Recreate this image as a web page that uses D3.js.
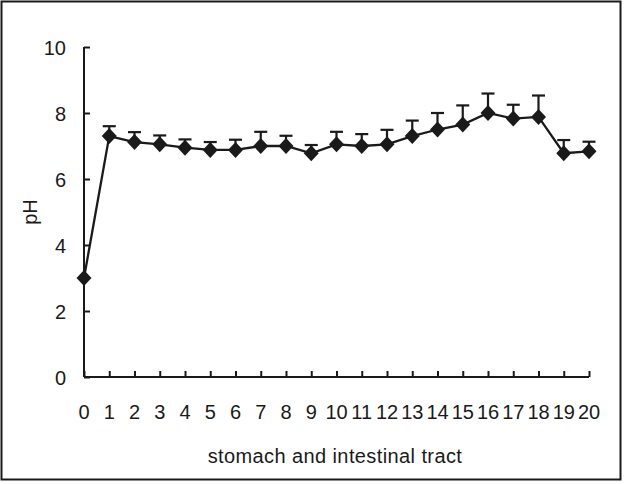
<!DOCTYPE html>
<html><head><meta charset="utf-8">
<script src="https://cdn.jsdelivr.net/npm/d3@7"></script>
<style>body{margin:0;background:#fff}svg{display:block}</style>
</head><body>
<script>
const categories = d3.range(0, 21);
const phMean = [3.0, 7.3, 7.12, 7.05, 6.95, 6.88, 6.88, 7.0, 7.0, 6.78, 7.05, 7.0, 7.05, 7.3, 7.5, 7.65, 8.0, 7.83, 7.88, 6.78, 6.84];
const phErr  = [0, 0.3, 0.3, 0.27, 0.25, 0.24, 0.31, 0.43, 0.31, 0.25, 0.38, 0.36, 0.44, 0.47, 0.5, 0.58, 0.59, 0.42, 0.65, 0.4, 0.29];
const yTicks = [0, 2, 4, 6, 8, 10];

const W = 625, H = 484;
const svg = d3.select("body").append("svg").attr("width", W).attr("height", H);
const ink = "#1a1a1a";
const font = "Liberation Sans, Arial, sans-serif";

svg.append("rect").attr("x", 1.5).attr("y", 1.5).attr("width", 619).attr("height", 478)
  .attr("fill", "none").attr("stroke", ink).attr("stroke-width", 2);

const x = d3.scaleLinear().domain([0, 20]).range([84, 589]);
const y = d3.scaleLinear().domain([0, 10]).range([377, 47]);

// y axis
const gy = svg.append("g").attr("transform", "translate(84,0)")
  .call(d3.axisRight(y).tickValues(yTicks).tickSize(6).tickFormat(""));
gy.select(".domain").attr("stroke", ink).attr("stroke-width", 2).attr("d", `M0,${y(10)}V${y(0)}`);
gy.selectAll(".tick line").attr("stroke", ink).attr("stroke-width", 2);
svg.append("g").selectAll("text").data(yTicks).join("text")
  .attr("x", 66).attr("y", d => y(d) + 8).attr("text-anchor", "end")
  .attr("font-family", font).attr("font-size", 20).attr("fill", ink).text(d => d);

// x axis
const gx = svg.append("g").attr("transform", `translate(0,${y(0)})`)
  .call(d3.axisTop(x).tickValues(categories).tickSize(6).tickFormat(""));
gx.select(".domain").attr("stroke", ink).attr("stroke-width", 2).attr("d", `M${x(0)},0H${x(20)}`);
gx.selectAll(".tick line").attr("stroke", ink).attr("stroke-width", 2);
svg.append("g").selectAll("text").data(categories).join("text")
  .attr("x", d => x(d)).attr("y", 419).attr("text-anchor", "middle")
  .attr("font-family", font).attr("font-size", 20).attr("fill", ink).text(d => d);

// axis titles
svg.append("text").attr("transform", `translate(37,${y(5)}) rotate(-90)`)
  .attr("text-anchor", "middle").attr("font-family", font).attr("font-size", 20).attr("fill", ink).text("pH");
svg.append("text").attr("x", 335).attr("y", 463).attr("text-anchor", "middle")
  .attr("font-family", font).attr("font-size", 20).attr("letter-spacing", 0.4).attr("fill", ink).text("stomach and intestinal tract");

// error bars
const eb = svg.append("g").attr("stroke", ink).attr("stroke-width", 2.2);
categories.forEach((c, i) => {
  if (phErr[i] <= 0) return;
  const top = y(phMean[i] + phErr[i]);
  eb.append("line").attr("x1", x(c)).attr("x2", x(c)).attr("y1", y(phMean[i])).attr("y2", top);
  eb.append("line").attr("x1", x(c) - 6.5).attr("x2", x(c) + 6.5).attr("y1", top).attr("y2", top);
});

// line
svg.append("path").datum(categories)
  .attr("d", d3.line().x(d => x(d)).y((d, i) => y(phMean[i])))
  .attr("fill", "none").attr("stroke", ink).attr("stroke-width", 2.3);

// markers
svg.append("g").selectAll("path").data(categories).join("path")
  .attr("transform", (d, i) => `translate(${x(d)},${y(phMean[i])})`)
  .attr("d", "M0,-8L7.5,0L0,8L-7.5,0Z").attr("fill", ink);
</script>
</body></html>
